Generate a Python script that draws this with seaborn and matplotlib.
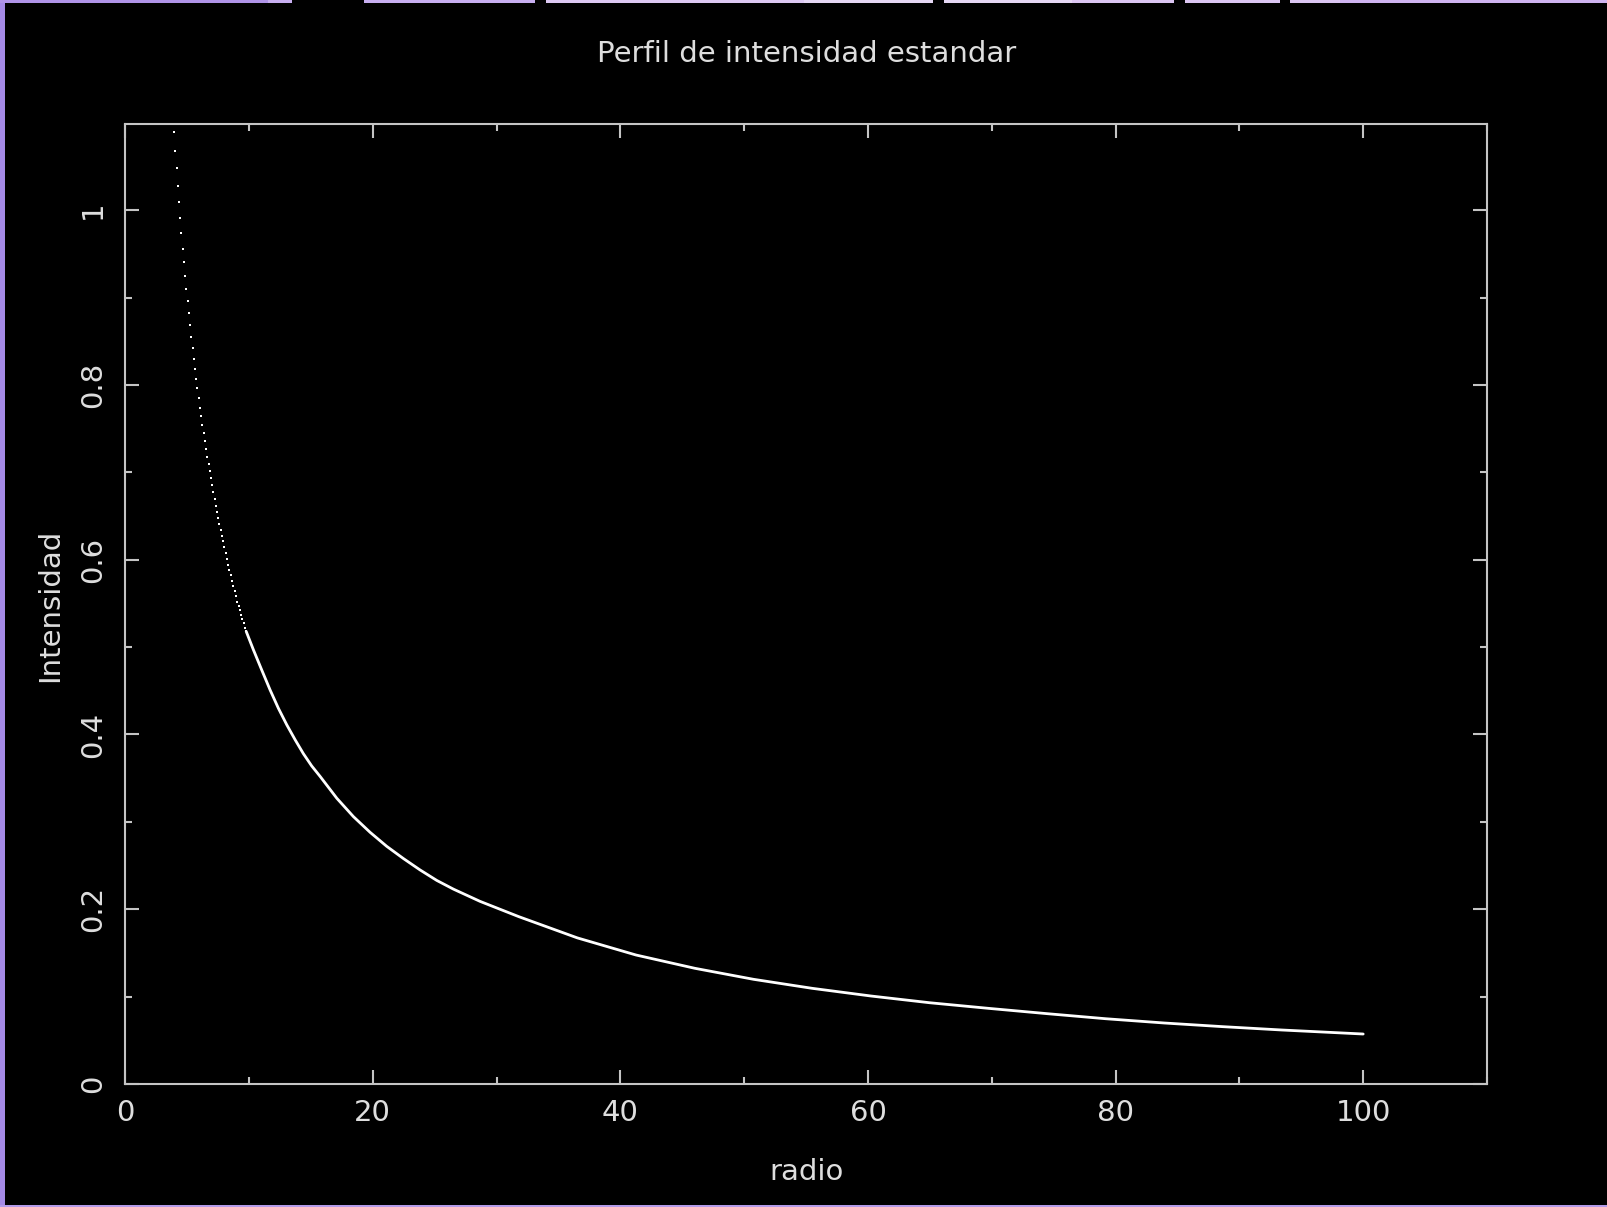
import matplotlib
matplotlib.use("Agg")
import matplotlib.pyplot as plt
import seaborn as sns
import numpy as np
import pandas as pd
from matplotlib.patches import Rectangle
from matplotlib.ticker import MultipleLocator

# ---- data ----
dot_radio = [3.93, 4.03, 4.17, 4.27, 4.33, 4.44, 4.54, 4.65, 4.73, 4.84, 4.94, 5.06,
             5.14, 5.24, 5.35, 5.46, 5.57, 5.65, 5.73, 5.84, 5.95, 6.05, 6.13, 6.24,
             6.35, 6.46, 6.56, 6.65, 6.75, 6.84, 6.94, 7.03, 7.13, 7.24, 7.34, 7.43,
             7.53, 7.62, 7.72, 7.83, 7.93, 8.01, 8.12, 8.22, 8.33, 8.43, 8.53, 8.64,
             8.74, 8.85, 8.95, 9.06, 9.16, 9.27, 9.37, 9.47, 9.58, 9.68, 9.78]
dot_intens = [1.089, 1.068, 1.048, 1.028, 1.009, 0.991, 0.974, 0.956, 0.941, 0.925,
              0.910, 0.896, 0.882, 0.869, 0.855, 0.842, 0.830, 0.818, 0.807, 0.796,
              0.785, 0.774, 0.764, 0.754, 0.745, 0.736, 0.727, 0.718, 0.709, 0.701,
              0.693, 0.685, 0.677, 0.669, 0.662, 0.655, 0.648, 0.641, 0.634, 0.627,
              0.621, 0.615, 0.608, 0.601, 0.594, 0.588, 0.582, 0.576, 0.570, 0.564,
              0.558, 0.552, 0.547, 0.542, 0.537, 0.532, 0.527, 0.522, 0.518]

curve_radio = [9.78, 10.36, 11.03, 11.71, 12.38, 13.06, 13.73, 14.40, 15.07, 15.75,
               17.10, 18.44, 19.79, 21.13, 22.48, 23.82, 25.17, 26.52, 28.67, 31.80,
               36.53, 41.27, 46.02, 50.76, 55.49, 60.24, 64.98, 69.72, 74.46, 79.20,
               83.94, 88.68, 93.42, 100.0]
curve_intens = [0.518, 0.497, 0.474, 0.451, 0.430, 0.411, 0.394, 0.378, 0.364, 0.352,
                0.327, 0.306, 0.288, 0.272, 0.258, 0.245, 0.233, 0.223, 0.209, 0.1915,
                0.1672, 0.1476, 0.1324, 0.1198, 0.1095, 0.1007, 0.0930, 0.0866, 0.0805,
                0.0747, 0.0698, 0.0656, 0.0618, 0.0572]

x_ticks = [0, 20, 40, 60, 80, 100]
x_ticklabels = ["0", "20", "40", "60", "80", "100"]
y_ticks = [0, 0.2, 0.4, 0.6, 0.8, 1.0]
y_ticklabels = ["0", "0.2", "0.4", "0.6", "0.8", "1"]

title = "Perfil de intensidad estandar"
xlabel = "radio"
ylabel = "Intensidad"

# ---- styling ----
sns.set_theme(style="dark")
plt.rcParams["font.family"] = ["DejaVu Sans"]

W, H = 1608, 1207
fig = plt.figure(figsize=(W / 100, H / 100), dpi=100, facecolor="black")

axc = "#c4c4c4"
txtc = "#dedede"

ax = fig.add_axes([125.1 / W, 1 - 1084.0 / H, (1487.0 - 125.1) / W, (1084.0 - 124.1) / H])
ax.set_facecolor("black")

df_dots = pd.DataFrame({"radio": dot_radio, "intensidad": dot_intens})
df_curve = pd.DataFrame({"radio": curve_radio, "intensidad": curve_intens})

sns.lineplot(data=df_curve, x="radio", y="intensidad", ax=ax, color="white",
             linewidth=2.0, sort=True, estimator=None)
sns.scatterplot(data=df_dots, x="radio", y="intensidad", ax=ax, color="white",
                marker="s", s=4, linewidth=0)

ax.set_xlim(0, 110)
ax.set_ylim(0, 1.0985)
ax.grid(False)

for sp in ax.spines.values():
    sp.set_visible(True)
    sp.set_color(axc)
    sp.set_linewidth(1.5)

ax.set_xticks(x_ticks)
ax.set_xticklabels(x_ticklabels)
ax.set_yticks(y_ticks)
ax.set_yticklabels(y_ticklabels)
ax.xaxis.set_minor_locator(MultipleLocator(10))
ax.yaxis.set_minor_locator(MultipleLocator(0.1))

ax.tick_params(which="both", direction="in", colors=axc, top=True, right=True,
               bottom=True, left=True, width=1.5)
ax.tick_params(which="major", length=10)
ax.tick_params(which="minor", length=5)
ax.tick_params(axis="x", which="major", labelsize=21, labelcolor=txtc, pad=11)
ax.tick_params(axis="y", which="major", labelsize=21, labelcolor=txtc, pad=13,
               labelrotation=90)
for lab in ax.get_yticklabels():
    lab.set_va("center")

ax.set_xlabel("")
ax.set_ylabel("")

fig.text(807 / W, 1 - 54.5 / H, title, ha="center", va="center", color=txtc, fontsize=21)
fig.text(807 / W, 1 - 1172 / H, xlabel, ha="center", va="center", color=txtc, fontsize=21)
fig.text(50 / W, 1 - 605 / H, ylabel, ha="center", va="center", color=txtc, fontsize=21,
         rotation=90)

# ---- purple window border ----
fig.add_artist(Rectangle((0, 0), 5 / W, 1, transform=fig.transFigure,
                         facecolor="#a58ae6", edgecolor="none"))
fig.add_artist(Rectangle((0, 0), 1, 2 / H, transform=fig.transFigure,
                         facecolor="#b39be9", edgecolor="none"))
top_cols = ["#b094e8", "#c8aff0", "#ddc9f3", "#e6d8f5", "#dcc6f2", "#cfb4f0"]
n = len(top_cols)
for i, c in enumerate(top_cols):
    fig.add_artist(Rectangle((i / n, 1 - 3 / H), 1 / n + 0.001, 3 / H,
                             transform=fig.transFigure, facecolor=c, edgecolor="none"))
for x0, x1 in [(292, 364), (535, 546), (933, 944), (1174, 1185), (1280, 1290)]:
    fig.add_artist(Rectangle((x0 / W, 1 - 3 / H), (x1 - x0) / W, 3 / H,
                             transform=fig.transFigure, facecolor="black", edgecolor="none"))

fig.savefig("out.png", dpi=100, facecolor="black")
